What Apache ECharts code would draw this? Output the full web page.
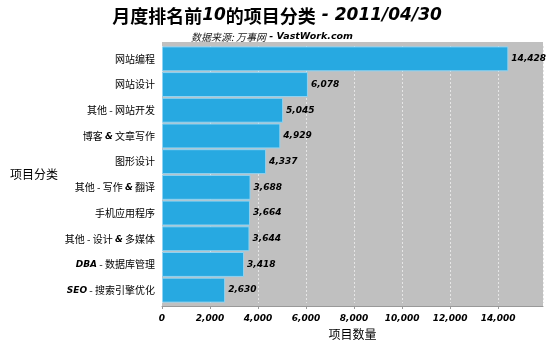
<!DOCTYPE html>
<html><head><meta charset="utf-8">
<script src="https://cdn.jsdelivr.net/npm/echarts@6/dist/echarts.min.js"></script>
<style>html,body{margin:0;padding:0;background:#fff}#c{width:550px;height:350px}</style>
</head><body><div id="c"></div>
<script>
var categories = ['SEO - 搜索引擎优化','DBA - 数据库管理','其他 - 设计 & 多媒体','手机应用程序','其他 - 写作 & 翻译','图形设计','博客 & 文章写作','其他 - 网站开发','网站设计','网站编程'];
var values = [2630, 3418, 3644, 3664, 3688, 4337, 4929, 5045, 6078, 14428];
var xTicks = [0, 2000, 4000, 6000, 8000, 10000, 12000, 14000];

function fmt(v){return String(v).replace(/\B(?=(\d{3})+(?!\d))/g, ',');}
function catLabel(s){
  return s.replace(/([A-Za-z&]+)/g, '{b|$1}');
}
var chart = echarts.init(document.getElementById('c'), null, {renderer:'canvas'});
chart.setOption({
  animation:false,
  backgroundColor:'#fff',
  title:[{
    text:'{n|月度排名前}{i|10}{n|的项目分类}{i| - 2011/04/30}',
    left:272, textAlign:'center', top:-4,
    textStyle:{rich:{
      n:{fontFamily:'Noto Sans CJK SC',fontSize:18,fontWeight:'bold',color:'#000',lineHeight:24,verticalAlign:'bottom'},
      i:{fontFamily:'DejaVu Sans',fontSize:17,fontWeight:'bold',fontStyle:'italic',color:'#000',lineHeight:24,verticalAlign:'bottom',padding:[0,0,1,0]}
    }}
  },{
    text:'{n|数据来源: 万事网}{i| - VastWork.com}',
    left:267, textAlign:'center', top:27,
    textStyle:{rich:{
      n:{fontFamily:'Noto Sans CJK SC',fontSize:10,fontStyle:'italic',fontWeight:'normal',color:'#222'},
      i:{fontFamily:'DejaVu Sans',fontSize:9.5,fontWeight:'bold',fontStyle:'italic',color:'#000'}
    }}
  }],
  graphic:[{type:'rect',z:-1,shape:{x:162,y:42,width:381,height:264},style:{fill:'#c0c0c0'},silent:true}],
  grid:{left:162,right:7,top:46,bottom:47,containLabel:false,show:false},
  xAxis:{
    type:'value', min:0, max:15871, interval:2000, offset:3,
    name:'项目数量', nameLocation:'middle', nameGap:22,
    nameTextStyle:{fontFamily:'Noto Sans CJK SC',fontSize:12,color:'#000'},
    axisLine:{show:true,lineStyle:{color:'#999',width:1}},
    axisTick:{show:true,length:3,lineStyle:{color:'#999'}},
    axisLabel:{fontFamily:'DejaVu Sans',fontSize:9,fontWeight:'bold',fontStyle:'italic',color:'#000',margin:8,
      formatter:function(v){return xTicks.indexOf(v)>=0?fmt(v):'';},showMaxLabel:false},
    splitLine:{show:true,lineStyle:{color:'#e6e6e6',type:[2,2],width:1}}
  },
  yAxis:{
    type:'category', data:categories,
    name:'项目分类', nameLocation:'middle', nameRotate:0, nameGap:104,
    nameTextStyle:{fontFamily:'Noto Sans CJK SC',fontSize:12,color:'#000'},
    axisLine:{show:false}, axisTick:{show:false},
    axisLabel:{margin:7,fontFamily:'Noto Sans CJK SC',fontSize:10,color:'#000',lineHeight:14,verticalAlign:'middle',
      formatter:catLabel,
      rich:{b:{fontFamily:'DejaVu Sans',fontSize:9,fontWeight:'bold',fontStyle:'italic',color:'#000',lineHeight:14,verticalAlign:'bottom',padding:[0,0,2,0]}}}
  },
  series:[{
    type:'bar', data:values, barCategoryGap:'3%',
    itemStyle:{color:'#27a9e1',borderColor:'#8fd3f2',borderWidth:1},
    label:{show:true,position:'right',distance:3,formatter:function(p){return fmt(p.value);},
      fontFamily:'DejaVu Sans',fontSize:9,fontWeight:'bold',fontStyle:'italic',color:'#000'}
  }]
});
</script></body></html>
